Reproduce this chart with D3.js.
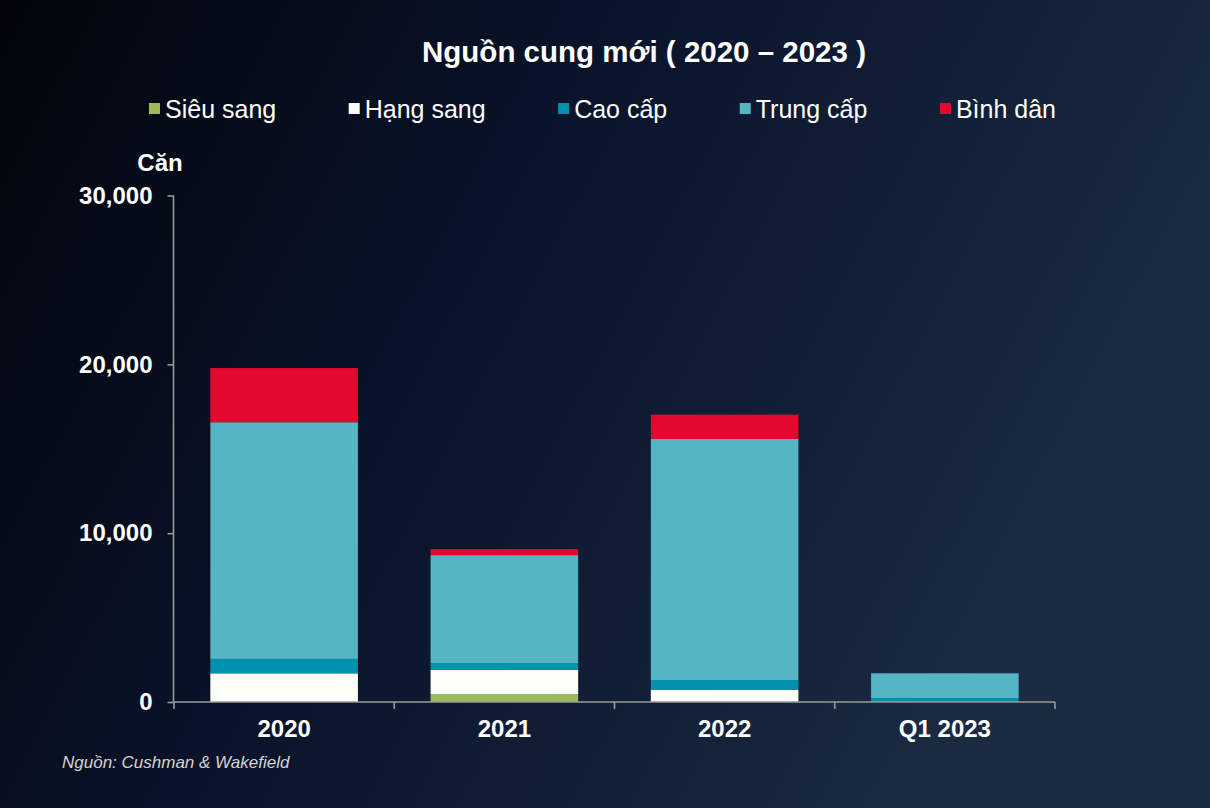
<!DOCTYPE html>
<html><head><meta charset="utf-8">
<script src="https://cdn.jsdelivr.net/npm/d3@7/dist/d3.min.js"></script>
<style>html,body{margin:0;padding:0;background:#050a14;}svg{display:block;}</style>
</head><body>
<svg id="c" width="1210" height="808"></svg>
<script>
const categories = ["2020", "2021", "2022", "Q1 2023"];
const seriesNames = ["Siêu sang", "Hạng sang", "Cao cấp", "Trung cấp", "Bình dân"];
const sieuSang = [0, 470, 0, 0];
const hangSang = [1700, 1440, 730, 0];
const caoCap = [850, 400, 570, 230];
const trungCap = [14020, 6390, 14280, 1470];
const binhDan = [3210, 355, 1440, 0];
const yTicks = [0, 10000, 20000, 30000];
const colors = ["#9bbb59", "#fffffa", "#0091ae", "#56b5c5", "#e4082e"];

const svg = d3.select("#c");
const W = 1210, H = 808;
const defs = svg.append("defs");
const lg = defs.append("linearGradient").attr("id","bg").attr("x1","0").attr("y1","0").attr("x2","1").attr("y2","0.35");
lg.append("stop").attr("offset","0").attr("stop-color","#02050b");
lg.append("stop").attr("offset","0.45").attr("stop-color","#09132a");
lg.append("stop").attr("offset","1").attr("stop-color","#1a2b42");
svg.append("rect").attr("width",W).attr("height",H).attr("fill","url(#bg)");

const font = "'Liberation Sans', Arial, sans-serif";

const x = d3.scaleBand().domain(categories).range([174, 1055]).paddingInner(0.33).paddingOuter(0.165);
const y = d3.scaleLinear().domain([0, 30000]).range([702, 195.5]);

const rows = categories.map((c, i) => ({cat: c, s0: sieuSang[i], s1: hangSang[i], s2: caoCap[i], s3: trungCap[i], s4: binhDan[i]}));
const stack = d3.stack().keys(["s0","s1","s2","s3","s4"]);
const layers = stack(rows);

svg.append("g").selectAll("g").data(layers).join("g")
  .attr("fill", (d, i) => colors[i])
  .selectAll("rect").data(d => d).join("rect")
  .attr("x", d => x(d.data.cat))
  .attr("width", x.bandwidth())
  .attr("y", d => y(d[1]))
  .attr("height", d => Math.max(0, y(d[0]) - y(d[1])));

// Y axis
const yAxis = svg.append("g").attr("transform","translate(173.5,0)")
  .call(d3.axisLeft(y).tickValues(yTicks).tickSize(6).tickPadding(15).tickFormat(d3.format(",")));
yAxis.select(".domain").attr("stroke","#9a9a9a").attr("stroke-width",1.6).attr("d","M0,702V195.5");
yAxis.selectAll(".tick line").attr("stroke","#9a9a9a").attr("stroke-width",1.6);
yAxis.selectAll(".tick text").attr("fill","#fff").attr("font-family",font).attr("font-weight","bold").attr("font-size","24px");

// X axis
const xAxis = svg.append("g").attr("transform","translate(0,702)")
  .call(d3.axisBottom(x).tickSize(0).tickPadding(18));
xAxis.select(".domain").remove();
xAxis.selectAll(".tick text").attr("fill","#fff").attr("font-family",font).attr("font-weight","bold").attr("font-size","24px").attr("dy","0.71em");
svg.append("line").attr("x1",173).attr("x2",1055).attr("y1",702).attr("y2",702).attr("stroke","#9a9a9a").attr("stroke-width",1.6);
const bounds = categories.map(c => x(c) + x.bandwidth() + x.step()*x.paddingInner()/2);
svg.append("g").selectAll("line").data([174, ...bounds]).join("line")
  .attr("x1", d => d).attr("x2", d => d).attr("y1", 702).attr("y2", 709)
  .attr("stroke","#9a9a9a").attr("stroke-width",1.6);

// Title
svg.append("text").attr("x",644).attr("y",62).attr("text-anchor","middle")
  .attr("fill","#fff").attr("font-family",font).attr("font-weight","bold").attr("font-size","29.5px")
  .text("Nguồn cung mới ( 2020 – 2023 )");

// Legend
const leg = svg.append("g");
let lx = 149;
seriesNames.forEach((n, i) => {
  leg.append("rect").attr("x", lx).attr("y", 103).attr("width", 11).attr("height", 11).attr("fill", colors[i]);
  const t = leg.append("text").attr("x", lx + 16).attr("y", 118).attr("fill","#fff")
    .attr("font-family",font).attr("font-size","25px").text(n);
  lx = lx + 16 + t.node().getComputedTextLength() + 72.5;
});

// Unit label
svg.append("text").attr("x",160).attr("y",171).attr("text-anchor","middle").attr("fill","#fff")
  .attr("font-family",font).attr("font-weight","bold").attr("font-size","24px").text("Căn");

// Source
svg.append("text").attr("x",62).attr("y",768).attr("fill","#d4d4d4").attr("font-style","italic")
  .attr("font-family",font).attr("font-size","17px").text("Nguồn: Cushman & Wakefield");
</script>
</body></html>
